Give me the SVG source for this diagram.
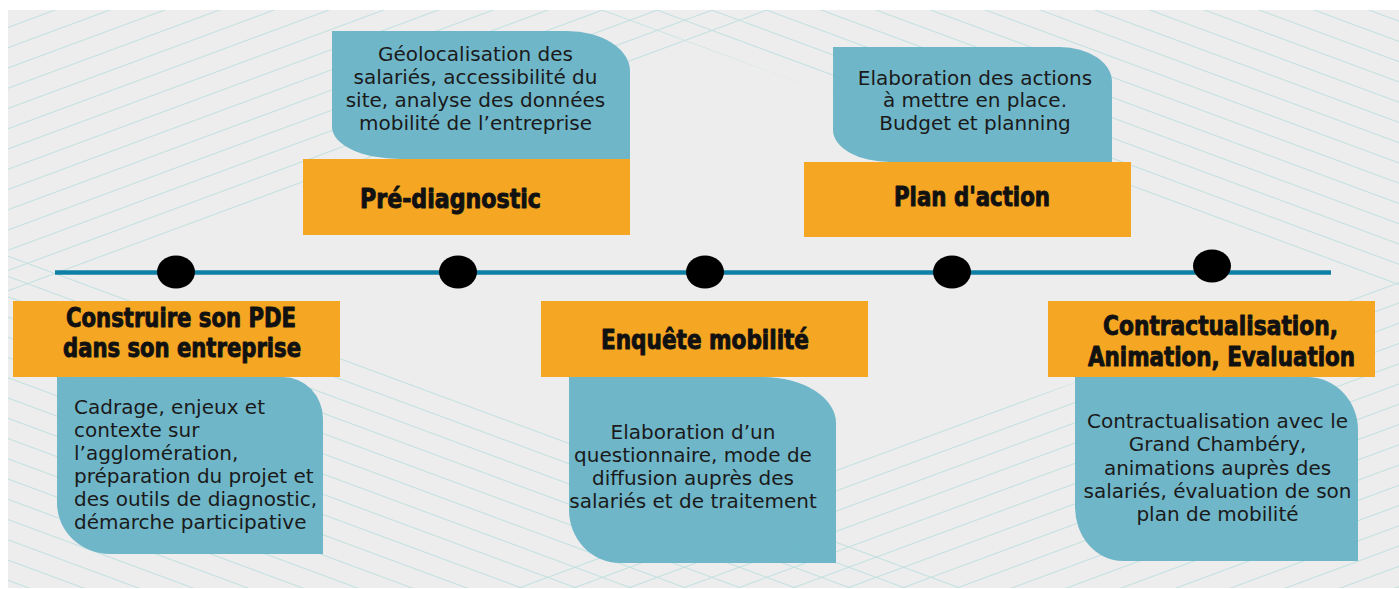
<svg xmlns="http://www.w3.org/2000/svg" width="1399" height="589" viewBox="0 0 1399 589">
<defs>
<pattern id="hatchA" patternUnits="userSpaceOnUse" width="60" height="19" patternTransform="rotate(-20.3)">
<line x1="0" y1="9.5" x2="60" y2="9.5" stroke="#c2e0e0" stroke-width="1.2"/>
</pattern>
<pattern id="hatchB" patternUnits="userSpaceOnUse" width="60" height="19" patternTransform="rotate(20.3)">
<line x1="0" y1="9.5" x2="60" y2="9.5" stroke="#c2e0e0" stroke-width="1.2"/>
</pattern>
<clipPath id="bgclip"><rect x="8" y="10" width="1391" height="578"/></clipPath>
</defs>
<style>
.bubble{fill:#66b2c6;fill-opacity:0.93}
.bar{fill:#f5a623}
.title{font-family:"DejaVu Sans Condensed","DejaVu Sans",sans-serif;font-weight:bold;font-size:26px;fill:#111;stroke:#111;stroke-width:0.9;stroke-linejoin:round}
.body{font-family:"DejaVu Sans",sans-serif;font-size:20px;fill:#1a1a1a}
.mid{text-anchor:middle}
.dot{fill:#000}
.timeline{stroke:#0e7fa5;stroke-width:4.5;fill:none}
</style>
<rect width="1399" height="589" fill="#ffffff"/>
<g id="background" clip-path="url(#bgclip)">
<rect x="8" y="10" width="1391" height="578" fill="#ededed"/>
<polygon points="8,10 800,10 8,310" fill="url(#hatchA)"/>
<polygon points="480,589 1399,589 1399,270" fill="url(#hatchA)"/>
<polygon points="600,10 1399,10 1399,300" fill="url(#hatchB)"/>
<polygon points="8,240 8,589 1000,589" fill="url(#hatchB)"/>
</g>
<g id="connectors">
<line class="timeline" x1="55" y1="272.5" x2="1331" y2="272.5"/>
</g>
<g id="step1">
<path class="bubble" d="M57,377 H283 A40,42 0 0 1 323,419 V554 H110 A53,51 0 0 1 57,503 Z"/>
<rect class="bar" x="13" y="301" width="327" height="76"/>
<text class="title" x="66" y="327" textLength="230" lengthAdjust="spacingAndGlyphs">Construire son PDE</text>
<text class="title" x="63" y="357" textLength="238" lengthAdjust="spacingAndGlyphs">dans son entreprise</text>
<text class="body" x="74" y="414">Cadrage, enjeux et</text>
<text class="body" x="74" y="437">contexte sur</text>
<text class="body" x="74" y="460">l’agglomération,</text>
<text class="body" x="74" y="483">préparation du projet et</text>
<text class="body" x="74" y="506">des outils de diagnostic,</text>
<text class="body" x="74" y="529">démarche participative</text>
<ellipse class="dot" cx="176" cy="272" rx="19" ry="16.5"/>
</g>
<g id="step2">
<path class="bubble" d="M332,31 H567 A63,40 0 0 1 630,71 V159 H400 A68,32 0 0 1 332,127 Z"/>
<rect class="bar" x="303" y="159" width="327" height="76"/>
<text class="title" x="360" y="208" textLength="181" lengthAdjust="spacingAndGlyphs">Pré-diagnostic</text>
<text class="body mid" x="475.5" y="61">Géolocalisation des</text>
<text class="body mid" x="475.5" y="84">salariés, accessibilité du</text>
<text class="body mid" x="475.5" y="107">site, analyse des données</text>
<text class="body mid" x="475.5" y="130">mobilité de l’entreprise</text>
<ellipse class="dot" cx="458" cy="272" rx="19" ry="16.5"/>
</g>
<g id="step3">
<path class="bubble" d="M569,377 H763 A73,46 0 0 1 836,423 V563 H620 A51,53 0 0 1 569,510 Z"/>
<rect class="bar" x="541" y="301" width="327" height="76"/>
<text class="title" x="601" y="349" textLength="208" lengthAdjust="spacingAndGlyphs">Enquête mobilité</text>
<text class="body mid" x="693" y="438.5">Elaboration d’un</text>
<text class="body mid" x="693" y="461.5">questionnaire, mode de</text>
<text class="body mid" x="693" y="484.5">diffusion auprès des</text>
<text class="body mid" x="693" y="508">salariés et de traitement</text>
<ellipse class="dot" cx="705" cy="272" rx="19" ry="16.5"/>
</g>
<g id="step4">
<path class="bubble" d="M833,47 H1060 A52,35 0 0 1 1112,82 V162 H890 A57,32 0 0 1 833,130 Z"/>
<rect class="bar" x="804" y="162" width="327" height="75"/>
<text class="title" x="894" y="206" textLength="156" lengthAdjust="spacingAndGlyphs">Plan d'action</text>
<text class="body mid" x="975" y="84.5">Elaboration des actions</text>
<text class="body mid" x="975" y="107">à mettre en place.</text>
<text class="body mid" x="975" y="130">Budget et planning</text>
<ellipse class="dot" cx="952" cy="272" rx="19" ry="16.5"/>
</g>
<g id="step5">
<path class="bubble" d="M1075,377 H1307 A51,53 0 0 1 1358,430 V561 H1123 A48,54 0 0 1 1075,507 Z"/>
<rect class="bar" x="1048" y="301" width="327" height="76"/>
<text class="title" x="1103" y="335" textLength="235" lengthAdjust="spacingAndGlyphs">Contractualisation,</text>
<text class="title" x="1088" y="366" textLength="267" lengthAdjust="spacingAndGlyphs">Animation, Evaluation</text>
<text class="body mid" x="1217.5" y="428">Contractualisation avec le</text>
<text class="body mid" x="1217.5" y="451">Grand Chambéry,</text>
<text class="body mid" x="1217.5" y="474.5">animations auprès des</text>
<text class="body mid" x="1217.5" y="498">salariés, évaluation de son</text>
<text class="body mid" x="1217.5" y="521">plan de mobilité</text>
<ellipse class="dot" cx="1212" cy="266" rx="19" ry="16.5"/>
</g>
</svg>
